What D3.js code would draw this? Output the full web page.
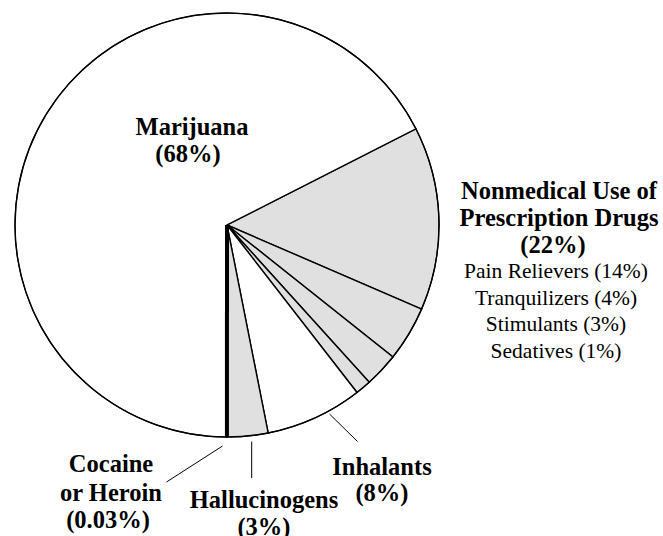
<!DOCTYPE html>
<html>
<head>
<meta charset="utf-8">
<script src="https://cdn.jsdelivr.net/npm/d3@7"></script>
<style>
  html, body { margin: 0; padding: 0; background: #fff; }
  svg { display: block; }
</style>
</head>
<body>
<svg id="chart" width="663" height="536"></svg>
<script>
// Slice order clockwise, starting at the Marijuana / Pain Relievers boundary
const categories = ["Pain Relievers", "Tranquilizers", "Stimulants", "Sedatives",
                    "Inhalants", "Hallucinogens", "Cocaine or Heroin", "Marijuana"];
// shares as drawn in the picture (labels show the rounded figures)
const values = [14, 4.2, 2.6, 1.2, 7.4, 3.1, 0.03, 67.5];
const fills = ["#e0e0e0", "#e0e0e0", "#e0e0e0", "#e0e0e0", "#ffffff", "#e0e0e0", "#000000", "#ffffff"];

const rxLabels = ["Pain Relievers (14%)", "Tranquilizers (4%)", "Stimulants (3%)", "Sedatives (1%)"];
const rxTitle = ["Nonmedical Use of", "Prescription Drugs", "(22%)"];

const FONT = "'Liberation Serif', 'Times New Roman', Times, 'DejaVu Serif', serif";

const svg = d3.select("#chart");
const cx = 227, cy = 225, R = 212;
const g = svg.append("g").attr("transform", `translate(${cx},${cy})`);

const deg = Math.PI / 180;
const pie = d3.pie().sort(null).value(d => d)
  .startAngle(63 * deg).endAngle(423 * deg);
const arcs = pie(values);
const arc = d3.arc().innerRadius(0).outerRadius(R);

g.selectAll("path.slice")
  .data(arcs)
  .enter().append("path")
  .attr("class", "slice")
  .attr("d", arc)
  .attr("fill", (d, i) => fills[i])
  .attr("stroke", "#000")
  .attr("stroke-width", 1.4)
  .attr("stroke-linejoin", "miter");

// Cocaine/Heroin tiny slice drawn as a heavy black spoke
const coc = arcs[6];
const cocA = (coc.startAngle + coc.endAngle) / 2;
g.append("line")
  .attr("x1", 0).attr("y1", 0)
  .attr("x2", R * Math.sin(cocA)).attr("y2", -R * Math.cos(cocA))
  .attr("stroke", "#000").attr("stroke-width", 4);

// outer circle
g.append("circle").attr("r", R).attr("fill", "none").attr("stroke", "#000").attr("stroke-width", 1.2);

const boldSize = 24.5, regSize = 21.5;

function addLines(x, y0, lines, step, bold, size) {
  lines.forEach((t, i) => {
    svg.append("text")
      .attr("x", x).attr("y", y0 + i * step)
      .attr("text-anchor", "middle")
      .attr("font-family", FONT)
      .style("font-family", FONT)
      .attr("font-weight", bold ? "bold" : "normal")
      .style("font-size", size + "px")
      .attr("fill", "#000")
      .text(t);
  });
}

// Marijuana label
addLines(192, 135, ["Marijuana"], 27, true, boldSize);
addLines(188, 162, ["(68%)"], 27, true, boldSize);

// Prescription drugs group
addLines(559, 199, rxTitle.slice(0, 2), 27, true, boldSize);
addLines(553, 253, rxTitle.slice(2), 27, true, boldSize);
addLines(556, 278, rxLabels, 26.5, false, regSize);

// Inhalants
addLines(382, 475, ["Inhalants", "(8%)"], 26, true, boldSize);
// Hallucinogens
addLines(264, 508, ["Hallucinogens", "(3%)"], 27, true, boldSize);
// Cocaine or Heroin
addLines(111, 472, ["Cocaine", "or Heroin"], 28.5, true, boldSize);
addLines(108, 528, ["(0.03%)"], 27, true, boldSize);

// leader lines
const leaders = [
  [[329.5, 414], [357.5, 441.5]],
  [[251.7, 441.5], [251.7, 478]],
  [[222.5, 446], [166.5, 482]]
];
leaders.forEach(l => {
  svg.append("line")
    .attr("x1", l[0][0]).attr("y1", l[0][1])
    .attr("x2", l[1][0]).attr("y2", l[1][1])
    .attr("stroke", "#000").attr("stroke-width", 1);
});
</script>
</body>
</html>
